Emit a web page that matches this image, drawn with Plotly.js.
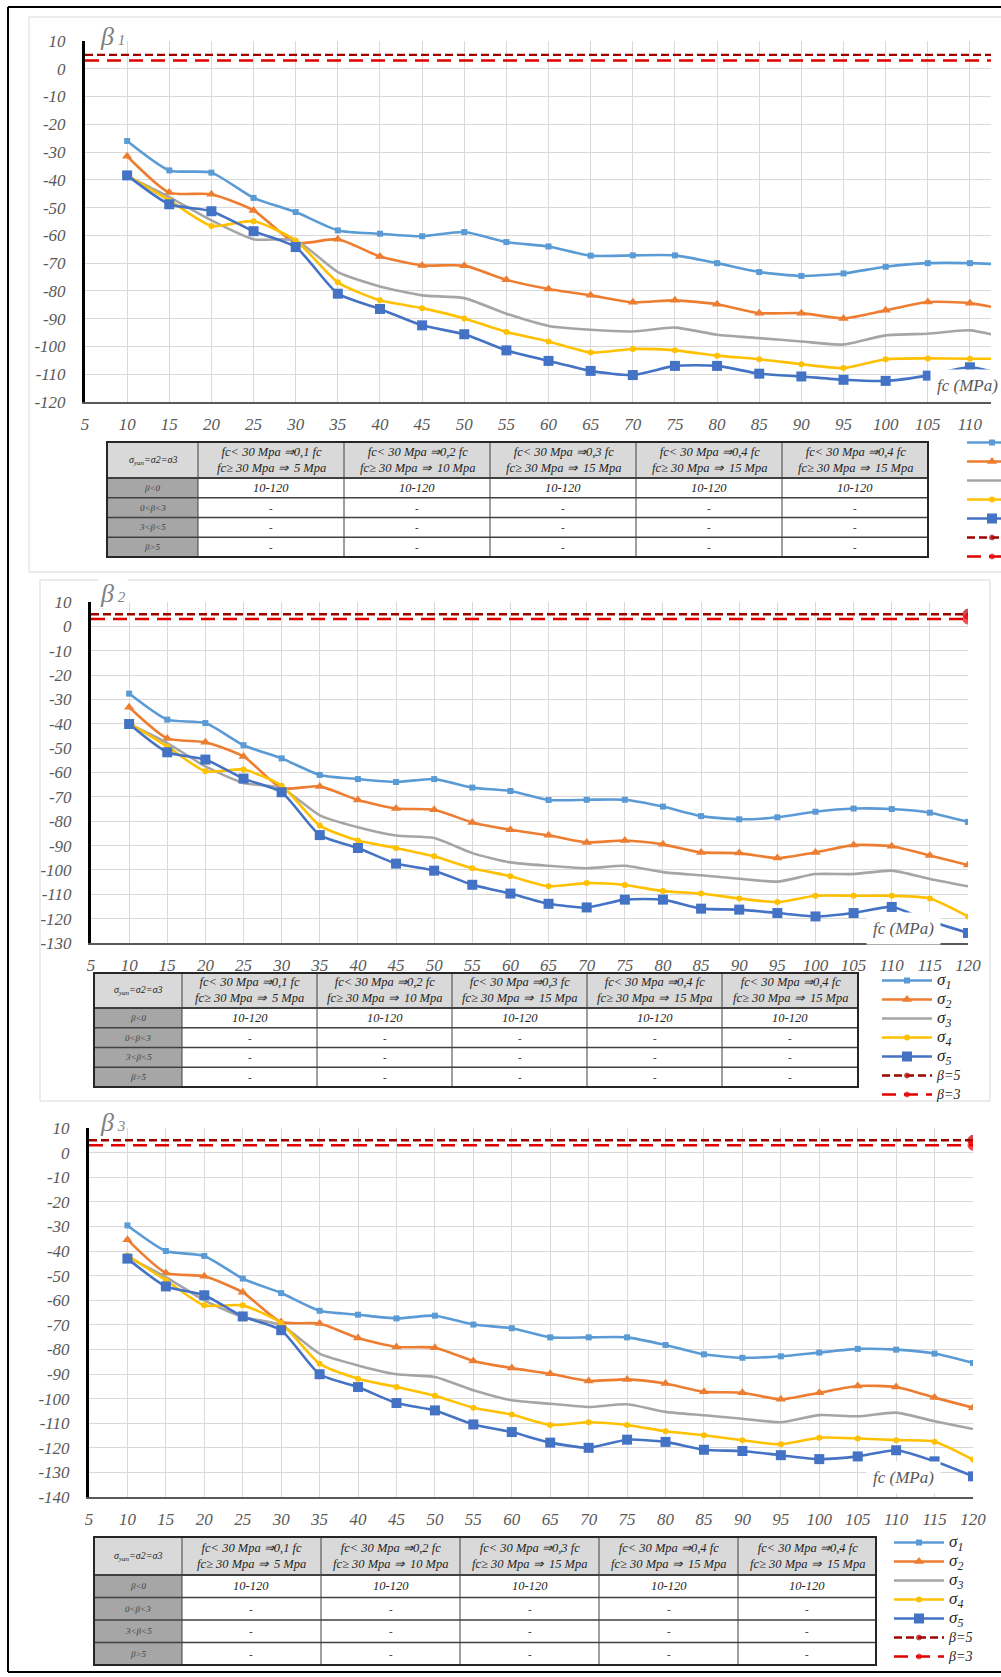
<!DOCTYPE html>
<html><head><meta charset="utf-8">
<script src="https://cdn.plot.ly/plotly-3.0.1.min.js"></script>
<style>html,body{margin:0;padding:0;background:#fff}#chart{width:1001px;height:1677px}</style>
</head><body><div id="chart"></div>
<script>
// ---------------- DATA ----------------
// fc values (MPa)
const fcB1 = [10,15,20,25,30,35,40,45,50,55,60,65,70,75,80,85,90,95,100,105,110,115];
const fc   = [10,15,20,25,30,35,40,45,50,55,60,65,70,75,80,85,90,95,100,105,110,115,120];

// beta1 panel
const b1_s1 = [-26.0,-36.6,-37.4,-46.5,-51.6,-58.2,-59.4,-60.3,-58.8,-62.4,-64.0,-67.3,-67.2,-67.2,-70.0,-73.2,-74.6,-73.7,-71.3,-70.0,-70.0,-70.6];
const b1_s2 = [-31.5,-44.6,-45.2,-51.0,-62.7,-61.4,-67.6,-70.8,-70.9,-76.0,-79.3,-81.6,-84.1,-83.4,-84.8,-88.0,-88.0,-89.9,-87.0,-84.0,-84.4,-87.2];
const b1_s3 = [-38.7,-46.2,-54.6,-61.4,-61.8,-73.2,-78.4,-81.6,-82.6,-88.2,-92.6,-94.0,-94.6,-93.2,-95.8,-97.0,-98.2,-99.3,-96.0,-95.4,-94.2,-97.4];
const b1_s4 = [-38.4,-47.4,-56.6,-54.9,-61.8,-76.9,-83.4,-86.2,-89.9,-94.8,-98.2,-102.2,-100.9,-101.4,-103.3,-104.6,-106.4,-107.8,-104.6,-104.3,-104.4,-104.5];
const b1_s5 = [-38.4,-48.8,-51.3,-58.5,-64.2,-81.0,-86.5,-92.4,-95.6,-101.4,-105.2,-108.8,-110.3,-107.0,-107.0,-109.8,-110.8,-112.0,-112.4,-110.5,-107.5,-111.0];

// beta2 panel
const b2_s1 = [-27.6,-38.3,-39.7,-48.8,-54.2,-61.0,-62.7,-63.9,-62.7,-66.2,-67.6,-71.3,-71.2,-71.2,-74.0,-77.9,-79.2,-78.4,-76.1,-74.8,-75.0,-76.5,-80.3];
const b2_s2 = [-33.2,-46.0,-47.6,-53.4,-66.4,-65.7,-71.3,-74.8,-75.3,-80.5,-83.5,-85.8,-88.7,-87.9,-89.5,-92.8,-93.1,-95.1,-92.8,-89.8,-90.3,-94.1,-98.0];
const b2_s3 = [-40.1,-47.9,-57.5,-64.3,-66.4,-77.6,-82.5,-85.9,-86.9,-93.1,-96.9,-98.3,-99.3,-98.3,-100.9,-102.2,-103.6,-104.8,-101.7,-101.7,-100.3,-103.7,-106.7];
const b2_s4 = [-39.7,-49.3,-59.5,-58.8,-65.4,-81.8,-87.9,-91.0,-94.4,-99.3,-102.6,-106.7,-105.4,-106.2,-108.7,-109.7,-111.7,-113.2,-110.6,-110.6,-110.6,-111.7,-119.1];
const b2_s5 = [-40.1,-51.7,-54.7,-62.5,-68.1,-85.7,-91.0,-97.4,-100.3,-106.1,-109.7,-113.9,-115.4,-112.2,-112.2,-115.9,-116.3,-117.7,-119.1,-117.7,-115.2,-121.0,-125.9];

// beta3 panel
const b3_s1 = [-29.6,-40.0,-42.0,-51.2,-57.1,-64.3,-65.9,-67.4,-66.3,-69.9,-71.4,-75.1,-75.1,-75.1,-78.2,-82.0,-83.4,-82.8,-81.3,-79.8,-80.1,-81.7,-85.5];
const b3_s2 = [-35.4,-48.9,-50.3,-56.8,-68.9,-69.5,-75.4,-79.0,-79.3,-84.7,-87.6,-89.9,-92.8,-92.2,-93.9,-97.2,-97.6,-100.3,-97.6,-94.9,-95.3,-99.6,-103.7];
const b3_s3 = [-42.4,-50.6,-60.1,-66.8,-70.2,-81.7,-86.5,-90.1,-91.2,-96.6,-100.7,-102.1,-103.4,-102.3,-105.4,-106.8,-108.2,-109.6,-106.7,-107.2,-105.7,-109.2,-112.4];
const b3_s4 = [-41.8,-51.9,-62.1,-62.1,-69.3,-85.8,-91.9,-95.3,-98.8,-103.7,-106.5,-110.7,-109.6,-110.7,-113.3,-114.9,-116.9,-118.6,-115.9,-116.2,-116.9,-117.5,-124.8];
const b3_s5 = [-43.1,-54.4,-58.0,-66.6,-72.2,-90.1,-95.3,-101.8,-104.8,-110.5,-113.6,-117.9,-120.0,-116.7,-117.6,-120.8,-121.3,-123.0,-124.6,-123.5,-121.0,-125.5,-131.6];

// target reliability lines
const betaX = [5, 120];
const beta5 = [5, 5];
const beta3 = [3, 3];

// tick labels
const xTicks  = [5,10,15,20,25,30,35,40,45,50,55,60,65,70,75,80,85,90,95,100,105,110,115,120];
const yTicks1 = [10,0,-10,-20,-30,-40,-50,-60,-70,-80,-90,-100,-110,-120];
const yTicks2 = [10,0,-10,-20,-30,-40,-50,-60,-70,-80,-90,-100,-110,-120,-130];
const yTicks3 = [10,0,-10,-20,-30,-40,-50,-60,-70,-80,-90,-100,-110,-120,-130,-140];

// names / labels
const seriesNames = ['σ<sub>1</sub>','σ<sub>2</sub>','σ<sub>3</sub>','σ<sub>4</sub>','σ<sub>5</sub>'];
const betaNames = ['β=5','β=3'];
const panelTitles = ['β','β','β'];
const panelIdx = ['1','2','3'];
const axisLabel = 'fc (MPa)';

// table content
const tableHead = [
  'σ<sub>yan</sub>=σ2=σ3',
  'fc&lt; 30 Mpa ⇒0,1 fc<br>fc≥ 30 Mpa ⇒  5 Mpa',
  'fc&lt; 30 Mpa ⇒0,2 fc<br>fc≥ 30 Mpa ⇒  10 Mpa',
  'fc&lt; 30 Mpa ⇒0,3 fc<br>fc≥ 30 Mpa ⇒  15 Mpa',
  'fc&lt; 30 Mpa ⇒0,4 fc<br>fc≥ 30 Mpa ⇒  15 Mpa',
  'fc&lt; 30 Mpa ⇒0,4 fc<br>fc≥ 30 Mpa ⇒  15 Mpa'
];
const betaRanges = ['β&lt;0','0&lt;β&lt;3','3&lt;β&lt;5','β>5'];
const rangeValues = ['10-120','-','-','-'];

// ---------------- STYLE / LAYOUT ----------------
const W = 1001, H = 1677;
const px = v => v / W;
const py = v => 1 - v / H;
const colors = ['#5B9BD5','#ED7D31','#A5A5A5','#FFC000','#4472C4'];
const symbols = ['square','triangle-up','circle','circle','square'];
const msizes = [6,9,0,6,10];
const serif = 'Liberation Serif';

function panelTraces(xs, ys, xa, ya, leg){
  const out = [];
  ys.forEach((y, i) => {
    out.push({
      type:'scatter', mode: msizes[i] ? 'lines+markers' : 'lines',
      x: xs, y: y, xaxis: xa, yaxis: ya, legend: leg,
      name: '<span style="font-size:17px"><i>' + seriesNames[i] + '</i></span>',
      line: {color: colors[i], width: 2.6, shape: 'spline', smoothing: 0.6},
      marker: {symbol: symbols[i], size: msizes[i], color: colors[i]}
    });
  });
  out.push({type:'scatter', mode:'lines+markers', x: betaX, y: beta5, xaxis: xa, yaxis: ya, legend: leg,
    name: '<span style="font-size:14px"><i>' + betaNames[0] + '</i></span>',
    line: {color:'#9E0000', width:2.4, dash:'8px,4px'},
    marker: {size:[0,10], color:'#C00000'}});
  out.push({type:'scatter', mode:'lines+markers', x: betaX, y: beta3, xaxis: xa, yaxis: ya, legend: leg,
    name: '<span style="font-size:14px"><i>' + betaNames[1] + '</i></span>',
    line: {color:'#E00000', width:2.4, dash:'14px,8px'},
    marker: {size:[0,10], color:'#FF0000'}});
  return out;
}

const data = [].concat(
  panelTraces(fcB1, [b1_s1,b1_s2,b1_s3,b1_s4,b1_s5], 'x', 'y', 'legend'),
  panelTraces(fc, [b2_s1,b2_s2,b2_s3,b2_s4,b2_s5], 'x2', 'y2', 'legend2'),
  panelTraces(fc, [b3_s1,b3_s2,b3_s3,b3_s4,b3_s5], 'x3', 'y3', 'legend3')
);

const tickF = {family: serif, size: 17, color:'#595959'};
const itx = a => a.map(v => '<i>' + v + '</i>');
function xAx(d0, d1, r1, anchor){
  return {domain:[px(d0), px(d1)], range:[5, r1], anchor: anchor,
    tickmode:'array', tickvals: xTicks, ticktext: itx(xTicks),
    showgrid:true, gridcolor:'#d9d9d9', gridwidth:1, zeroline:false,
    showline:true, linecolor:'#595959', linewidth:1.5,
    ticks:'outside', ticklen:6, tickcolor:'rgba(0,0,0,0)', tickfont: tickF};
}
function yAx(top, bot, r0, anchor, tv){
  return {domain:[py(bot), py(top)], range:[r0, 10], anchor: anchor,
    tickmode:'array', tickvals: tv, ticktext: itx(tv),
    showgrid:true, gridcolor:'#d9d9d9', gridwidth:1, zeroline:false,
    showline:true, linecolor:'#000000', linewidth:3,
    ticks:'outside', ticklen:13, tickcolor:'rgba(0,0,0,0)', tickfont: tickF};
}
function legendAt(xl, yt){
  return {x: px(xl), y: py(yt), xanchor:'left', yanchor:'top', bgcolor:'rgba(0,0,0,0)',
    borderwidth:0, font:{family: serif, size:12, color:'#262626'}, itemwidth:50, tracegroupgap:0};
}
function titleAnn(xl, yc, k){
  return {xref:'paper', yref:'paper', x: px(xl), y: py(yc), xanchor:'left', yanchor:'middle',
    showarrow:false, bgcolor:'#ffffff',
    text: '<i>' + panelTitles[k] + '<span style="font-size:15px"> ' + panelIdx[k] + '</span></i>',
    font:{family: serif, size:26, color:'#808080'}};
}
function fcAnn(x, yc, anchor){
  return {xref:'paper', yref:'paper', x: px(x), y: py(yc), xanchor: anchor, yanchor:'middle',
    showarrow:false, bgcolor:'#ffffff', borderpad:6, text: '<i>' + axisLabel + '</i>',
    font:{family: serif, size:17, color:'#595959'}};
}
function pRect(x0, y0, x1, y1, col, w, fill){
  return {type:'rect', xref:'paper', yref:'paper', x0:px(x0), x1:px(x1), y0:py(y0), y1:py(y1),
    line:{color:col, width:w}, fillcolor: fill || 'rgba(0,0,0,0)', layer:'above'};
}
function pLine(x0, y0, x1, y1, col, w){
  return {type:'line', xref:'paper', yref:'paper', x0:px(x0), x1:px(x1), y0:py(y0), y1:py(y1),
    line:{color:col, width:w}, layer:'above'};
}

const shapes = [
  pRect(29, 17, 1010, 572, '#d9d9d9', 1),
  pRect(40, 580, 990, 1101, '#d9d9d9', 1),
  pLine(8, 7, 8, 1672, '#000000', 2),
  pLine(8, 7, 1001, 7, '#000000', 2),
  pLine(8, 1672, 1001, 1672, '#000000', 2)
];
const annotations = [
  titleAnn(98, 37, 0), titleAnn(98, 593, 1), titleAnn(98, 1122, 2),
  fcAnn(930, 385, 'left'), fcAnn(903, 928, 'center'), fcAnn(903, 1477, 'center')
];

// table drawn from the table arrays: cell fills and rules as shapes, cell text as annotations
function addTable(x0, y0, colw, hh, rh){
  const xs = [x0];
  colw.forEach(w => xs.push(xs[xs.length - 1] + w));
  const x1 = xs[xs.length - 1];
  const nRows = betaRanges.length;
  const y1 = y0 + hh + nRows * rh;
  shapes.push(pRect(x0, y0, x1, y0 + hh, 'rgba(0,0,0,0)', 0, '#d9d9d9'));
  shapes.push(pRect(xs[0], y0 + hh, xs[1], y1, 'rgba(0,0,0,0)', 0, '#a6a6a6'));
  for (let r = 0; r < nRows; r++) {
    const yy = y0 + hh + r * rh;
    shapes.push(pLine(x0, yy, x1, yy, '#404040', r === 0 ? 2 : 1.5));
  }
  for (let c = 1; c < xs.length - 1; c++) shapes.push(pLine(xs[c], y0, xs[c], y1, '#404040', 1));
  shapes.push(pRect(x0, y0, x1, y1, '#262626', 2));
  tableHead.forEach((t, c) => {
    annotations.push({xref:'paper', yref:'paper', x: px((xs[c] + xs[c + 1]) / 2), y: py(y0 + hh / 2),
      xanchor:'center', yanchor:'middle', showarrow:false, align:'center',
      text: '<i>' + t + '</i>', font:{family: serif, size: c === 0 ? 10 : 12.5, color:'#262626'}});
  });
  const cols = [betaRanges, rangeValues, rangeValues, rangeValues, rangeValues, rangeValues];
  cols.forEach((col, c) => {
    col.forEach((t, r) => {
      annotations.push({xref:'paper', yref:'paper', x: px((xs[c] + xs[c + 1]) / 2),
        y: py(y0 + hh + (r + 0.5) * rh), xanchor:'center', yanchor:'middle', showarrow:false,
        text: '<i>' + t + '</i>',
        font:{family: serif, size: c === 0 ? 9 : (r === 0 ? 12.5 : 11), color: c === 0 ? '#404040' : '#262626'}});
    });
  });
}
addTable(107, 442, [91,146,146,146,146,146], 36, 19.75);
addTable(94, 973, [88,135,135,135,135,136], 35, 19.75);
addTable(94, 1537, [88,139,139,139,139,138], 38, 22.5);

const layout = {
  width: W, height: H,
  margin: {l:0, r:0, t:0, b:0, autoexpand:false},
  paper_bgcolor:'#ffffff', plot_bgcolor:'#ffffff',
  font: {family: serif, color:'#404040'},
  showlegend: true,
  xaxis: xAx(85, 991, 112.5, 'y'),
  yaxis: yAx(41, 402, -120, 'x', yTicks1),
  xaxis2: xAx(91, 968, 120, 'y2'),
  yaxis2: yAx(602, 943, -130, 'x2', yTicks2),
  xaxis3: xAx(89, 973, 120, 'y3'),
  yaxis3: yAx(1128, 1497, -140, 'x3', yTicks3),
  legend: legendAt(962, 428),
  legend2: legendAt(877, 966),
  legend3: legendAt(889, 1528),
  annotations: annotations,
  shapes: shapes
};

Plotly.newPlot('chart', data, layout, {staticPlot:true});
</script>
</body></html>
